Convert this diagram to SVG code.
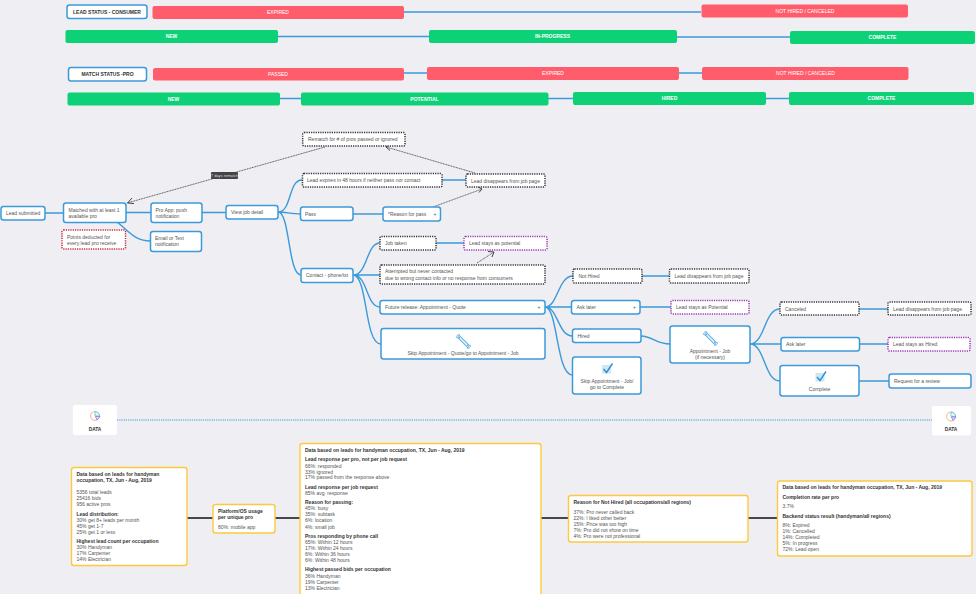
<svg xmlns="http://www.w3.org/2000/svg" width="976" height="594" viewBox="0 0 976 594">
<style>
text{font-family:"Liberation Sans",Arial,sans-serif;font-size:5px;fill:#555}
.c{text-anchor:middle}
.b{fill:#fff;stroke:#3b9ad9;stroke-width:1.500}
.d{fill:#fff;stroke:#333;stroke-width:1.500;stroke-dasharray:1.200 1.100}
.p{fill:#fff;stroke:#9c36b5;stroke-width:1.500;stroke-dasharray:1.200 1.100}
.r{fill:#fff;stroke:#c92a3e;stroke-width:1.500;stroke-dasharray:1.200 1.100}
.y{fill:#fff;stroke:#fcc93f;stroke-width:1.400}
.red{fill:#ff5d6c}.grn{fill:#0dd176}
.st{fill:#fff;font-weight:bold;font-size:5px;text-anchor:middle}
.st2{fill:#fff;font-size:5px;text-anchor:middle}
.h{fill:#333;font-size:5px;font-weight:bold}
.l{fill:none;stroke:#3b9ad9;stroke-width:1.400}
.k{fill:none;stroke:#111;stroke-width:1.500}
.g{fill:none;stroke:#666;stroke-width:1;stroke-dasharray:1.200 .5}
.ah{fill:none;stroke:#444;stroke-width:1}
</style>
<defs>
<g id="wrench"><path d="M2 2L11 11" fill="none" stroke="#5fb0e5" stroke-width="3.600" stroke-linecap="round"/><path d="M2 2L11 11" fill="none" stroke="#e8f4fc" stroke-width="1.600" stroke-linecap="round"/><path d="M-.5 2.500A2.800 2.800 0 0 1 2.500 -.5L1.500 1.500L3 3ZM13.500 10.500A2.800 2.800 0 0 1 10.500 13.500L11.500 11.500L10 10Z" fill="#e8f4fc" stroke="#5fb0e5" stroke-width=".8"/></g>
<g id="check"><rect x="0" y="1.500" width="9" height="8.500" fill="#cfe6f7"/><path d="M1.500 5.500L4.500 9L10.500 0" fill="none" stroke="#2f8fd6" stroke-width="1.400"/></g>
<g id="pie"><circle cx="0" cy="0" r="4.500" fill="none" stroke="#f6b48f" stroke-width="1"/><path d="M0 0V-4.500A4.500 4.500 0 0 1 4.500 0Z" fill="#e4f6fa" stroke="#5cc2d6" stroke-width=".8"/><path d="M.5 .5H5L2 4Z" fill="#e6e7fa" stroke="#7b7fd6" stroke-width=".8"/></g>
</defs>
<rect width="976" height="594" fill="#eeeef3"/>
<g id="connectors">
<path class="l" d="M404 12H701M278 36.500H429M677 37H790M404 73H427M679 73H702M280 98.500H301M548 98.500H573M766 98.500H789"/>
<path class="l" d="M45 213H63.500M126 212.500H151M202 212.500H226M117 222C130 232 135 241 150.500 241M278 212C292 212 288 180 302 180M278 212C285 212 292 214 300.500 214M278 212C290 212 288 275 301 275M353 214H383M442 180H466M353 275C368 275 366 243 380 243M353 275H380M353 275C368 275 366 307 380 307M353 275C368 275 364 344 381 344M436 243H464"/>
<path class="l" d="M545 307C558 307 558 276 573 276M545 307H571M545 307C558 307 558 336 572.500 336M545 307C558 307 556 375 572.500 375M642 276H669M640 307H671M641 336C652 336 656 344 670 344M750 344C765 344 764 309 780 309M750 344H781M750 344C765 344 764 381 780 381M859 309H888M859.500 344H888M859 381H889"/>
<path d="M117 420H932" fill="none" stroke="#3b9ad9" stroke-width="1.200" stroke-dasharray="1.200 1"/>
<path class="k" d="M187 518H213M275 518H300M541 518H568.500M748 518H777.500"/>
<path class="g" d="M325 147L127 203M475 173L386 147M433 207L482 189M477 263L494 252"/>
<path class="ah" d="M132 198L127.500 203L134 203.500M391 144.500L386 147L390 150.500M478 187L482 189L479 192.500M488 251.500L494 252L492 257"/>
</g>
<g id="n7days"><rect x="211" y="172" width="27" height="7" rx="1" fill="#444"/><text x="224.500" y="177" class="c" style="font-size:4px;fill:#ddd">7 days rematch</text></g>
<g id="lead-status"><rect class="b" x="67" y="5" width="80" height="13.500" rx="2.500"/><text x="107" y="13.800" class="c" style="fill:#333;font-weight:bold;font-size:5px">LEAD STATUS - CONSUMER</text></g>
<g id="s-expired"><rect class="red" x="152.500" y="6" width="251.500" height="13" rx="2"/><text x="278" y="14.300" class="st2">EXPIRED</text></g>
<g id="s-nothired"><rect class="red" x="701.500" y="4.500" width="206.500" height="13" rx="2"/><text x="805" y="13" class="st2">NOT HIRED / CANCELED</text></g>
<g id="s-new"><rect class="grn" x="65.500" y="30" width="212.500" height="13" rx="2"/><text x="171.500" y="38.300" class="st">NEW</text></g>
<g id="s-inprog"><rect class="grn" x="429" y="30" width="248" height="13" rx="2"/><text x="552.500" y="38.300" class="st">IN-PROGRESS</text></g>
<g id="s-complete"><rect class="grn" x="790" y="31" width="185" height="13" rx="2"/><text x="882.500" y="39" class="st">COMPLETE</text></g>
<g id="match-status"><rect class="b" x="68.500" y="67.500" width="78" height="13.500" rx="2.500"/><text x="107.500" y="75.800" class="c" style="fill:#333;font-weight:bold;font-size:5px">MATCH STATUS -PRO</text></g>
<g id="m-passed"><rect class="red" x="153" y="68" width="251" height="12.500" rx="2"/><text x="278" y="76" class="st2">PASSED</text></g>
<g id="m-expired"><rect class="red" x="427" y="67" width="252" height="13" rx="2"/><text x="553" y="75" class="st2">EXPIRED</text></g>
<g id="m-nothired"><rect class="red" x="702" y="67" width="206.500" height="13" rx="2"/><text x="805.500" y="75" class="st2">NOT HIRED / CANCELED</text></g>
<g id="m-new"><rect class="grn" x="67.500" y="92.500" width="212.500" height="13" rx="2"/><text x="173.500" y="100.500" class="st">NEW</text></g>
<g id="m-potential"><rect class="grn" x="301" y="92.500" width="247.500" height="13" rx="2"/><text x="424.500" y="100.500" class="st">POTENTIAL</text></g>
<g id="m-hired"><rect class="grn" x="573" y="92" width="193" height="13" rx="2"/><text x="669.500" y="100.300" class="st">HIRED</text></g>
<g id="m-complete"><rect class="grn" x="789" y="92" width="185" height="13" rx="2"/><text x="881.500" y="100" class="st">COMPLETE</text></g>
<g id="lead-submitted"><rect class="b" x="1" y="206.500" width="44" height="13.500" rx="2.500"/><text x="6" y="215.300">Lead submitted</text></g>
<g id="matched"><rect class="b" x="63.500" y="203" width="62.500" height="19.500" rx="2.500"/><text x="68.500" y="211.500">Matched with at least 1</text><text x="68.500" y="217.500">available pro</text></g>
<g id="proapp"><rect class="b" x="151" y="203" width="51" height="19.500" rx="2.500"/><text x="155.500" y="211.500">Pro App: push</text><text x="155.500" y="217.500">notification</text></g>
<g id="email"><rect class="b" x="150.500" y="231.500" width="51" height="20" rx="2.500"/><text x="155" y="240">Email or Text</text><text x="155" y="246">notification</text></g>
<g id="points"><rect class="r" x="62" y="230" width="63.500" height="19" rx="1.500"/><text x="67" y="238.500">Points deducted for</text><text x="67" y="244.800">every lead pro receive</text></g>
<g id="viewjob"><rect class="b" x="226" y="205.500" width="52" height="13.500" rx="2.500"/><text x="231" y="214">View job detail</text></g>
<g id="rematch"><rect class="d" x="302.700" y="132.500" width="102.300" height="13.500" rx="1.500"/><text x="308" y="141">Rematch for # of pros passed or ignored</text></g>
<g id="expires"><rect class="d" x="302.500" y="173.500" width="139.500" height="13.500" rx="1.500"/><text x="307" y="182">Lead expires in 48 hours if neither pass nor contact</text></g>
<g id="disappears1"><rect class="d" x="466" y="174" width="79" height="13" rx="1.500"/><text x="471" y="182.500">Lead disappears from job page</text></g>
<g id="pass"><rect class="b" x="300.500" y="207" width="52.500" height="13.500" rx="2.500"/><text x="305" y="215.500">Pass</text></g>
<g id="reason"><rect class="b" x="383" y="207" width="57.500" height="14" rx="2.500"/><text x="388" y="216">*Reason for pass</text><text x="433.500" y="216">+</text></g>
<g id="jobtaken"><rect class="d" x="380" y="236.500" width="56" height="13.500" rx="1.500"/><text x="385" y="245">Job taken</text></g>
<g id="staypot1"><rect class="p" x="464" y="236.500" width="83" height="13.500" rx="1.500"/><text x="469" y="245">Lead stays as potential</text></g>
<g id="attempted"><rect class="d" x="380" y="265" width="165" height="19" rx="1.500"/><text x="385" y="273">Attempted but never contacted</text><text x="385" y="279.500">due to wrong contact info or no response from consumers</text></g>
<g id="contact"><rect class="b" x="301" y="268.500" width="52" height="14" rx="2.500"/><text x="306" y="277.300">Contact - phone/txt</text></g>
<g id="future"><rect class="b" x="380" y="300.500" width="165" height="13.500" rx="2.500"/><text x="385" y="309">Future release: Appointment - Quote</text><text x="537.500" y="309">+</text></g>
<g id="skipquote"><rect class="b" x="381" y="328.500" width="164" height="30.500" rx="2.500"/><text x="463" y="354.500" class="c">Skip Appointment - Quote/go to Appointment - Job</text><use href="#wrench" x="457" y="335"/></g>
<g id="nothired"><rect class="d" x="573" y="269" width="69" height="14" rx="1.500"/><text x="578.500" y="277.800">Not Hired</text></g>
<g id="disappears2"><rect class="d" x="669.500" y="269" width="79.500" height="14" rx="1.500"/><text x="674.500" y="277.800">Lead disappears from job page</text></g>
<g id="asklater1"><rect class="b" x="571.500" y="300.500" width="68.500" height="13.500" rx="2.500"/><text x="576.500" y="309">Ask later</text><text x="633" y="309">+</text></g>
<g id="staypot2"><rect class="p" x="671" y="300.500" width="78" height="13.500" rx="1.500"/><text x="676" y="309">Lead stays as Potential</text></g>
<g id="hired"><rect class="b" x="572.500" y="329" width="68.500" height="13.500" rx="2.500"/><text x="577.500" y="338">Hired</text></g>
<g id="appointment"><rect class="b" x="670" y="326" width="80" height="37" rx="2.500"/><text x="710" y="352.500" class="c">Appointment - Job</text><text x="710" y="358.500" class="c">(if necessary)</text><use href="#wrench" x="704" y="332"/></g>
<g id="skipjob"><rect class="b" x="572.500" y="357" width="68.500" height="37" rx="2.500"/><text x="607" y="382.500" class="c">Skip Appointment - Job/</text><text x="607" y="388.500" class="c">go to Complete</text><use href="#check" x="602" y="363.500"/></g>
<g id="canceled"><rect class="d" x="780" y="302" width="79" height="13" rx="1.500"/><text x="785" y="310.500">Canceled</text></g>
<g id="disappears3"><rect class="d" x="888" y="302" width="83" height="13" rx="1.500"/><text x="893" y="310.500">Lead disappears from job page</text></g>
<g id="asklater2"><rect class="b" x="781" y="337.500" width="78.500" height="13.500" rx="2.500"/><text x="786" y="346.300">Ask later</text></g>
<g id="stayhired"><rect class="p" x="888" y="337.500" width="82" height="13.500" rx="1.500"/><text x="893" y="346.300">Lead stays as Hired</text></g>
<g id="complete"><rect class="b" x="780" y="365.500" width="79" height="30.500" rx="2.500"/><text x="819.500" y="391" class="c">Complete</text><use href="#check" x="815.500" y="371.500"/></g>
<g id="request"><rect class="b" x="889" y="374" width="82" height="14" rx="2.500"/><text x="894" y="382.800">Request for a review</text></g>
<g id="data-left"><rect x="73" y="405" width="44" height="30" rx="2" fill="#fff"/><use href="#pie" x="95" y="416"/><text x="95" y="430.500" class="c" style="fill:#333;font-weight:bold;font-size:4.800px">DATA</text></g>
<g id="data-right"><rect x="932" y="406" width="39" height="29.500" rx="2" fill="#fff"/><use href="#pie" x="951" y="416.500"/><text x="951" y="431" class="c" style="fill:#333;font-weight:bold;font-size:4.800px">DATA</text></g>
<g id="data1"><rect class="y" x="71.500" y="467.500" width="115.500" height="98" rx="2.500"/>
<text class="h" x="76.500" y="476">Data based on leads for handyman</text><text class="h" x="76.500" y="482.300">occupation, TX, Jun - Aug, 2019</text>
<text x="76.500" y="494">5356 total leads</text><text x="76.500" y="500">25416 bids</text><text x="76.500" y="506.300">956 active pros</text>
<text class="h" x="76.500" y="515.500">Lead distribution:</text><text x="76.500" y="522">30% get 8+ leads per month</text><text x="76.500" y="528">45% get 1-7</text><text x="76.500" y="534">25% get 1 or less</text>
<text class="h" x="76.500" y="543">Highest lead count per occupation</text><text x="76.500" y="549">30% Handyman</text><text x="76.500" y="555">17% Carpenter</text><text x="76.500" y="561">14% Electrician</text></g>
<g id="data2"><rect class="y" x="213" y="504.500" width="62" height="28.500" rx="2.500"/><text class="h" x="218" y="513">Platform/OS usage</text><text class="h" x="218" y="519">per unique pro</text><text x="218" y="528.500">80%: mobile app</text></g>
<g id="data3"><rect class="y" x="300" y="443.500" width="241" height="155" rx="2.500"/>
<text class="h" x="305" y="452">Data based on leads for handyman occupation, TX, Jun - Aug, 2019</text>
<text class="h" x="305" y="461">Lead response per pro, not per job request</text><text x="305" y="467.700">66%: responded</text><text x="305" y="473.700">33% ignored</text><text x="305" y="479.300">17% passed from the response above</text>
<text class="h" x="305" y="489">Lead response per job request</text><text x="305" y="495.300">85% avg. response</text>
<text class="h" x="305" y="504.300">Reason for passing:</text><text x="305" y="510.300">45%: busy</text><text x="305" y="516.300">35%: subtask</text><text x="305" y="522.300">6%: location</text><text x="305" y="528.700">4%: small job</text>
<text class="h" x="305" y="538">Pros responding by phone call</text><text x="305" y="544">65%: Within 12 hours</text><text x="305" y="550">17%: Within 24 hours</text><text x="305" y="556">6%: Within 36 hours</text><text x="305" y="562">6%: Within 48 hours</text>
<text class="h" x="305" y="571.300">Highest passed bids per occupation</text><text x="305" y="577.700">36% Handyman</text><text x="305" y="583.700">19% Carpenter</text><text x="305" y="589.700">13% Electrician</text></g>
<g id="data4"><rect class="y" x="568.500" y="495.500" width="179.500" height="46.500" rx="2.500"/>
<text class="h" x="573.500" y="504">Reason for Not Hired (all occupations/all regions)</text><text x="573.500" y="513.700">37%: Pro never called back</text><text x="573.500" y="519.700">22%: I liked other better</text><text x="573.500" y="525.700">15%: Price was too high</text><text x="573.500" y="531.700">7%: Pro did not show on time</text><text x="573.500" y="537.700">4%: Pro were not professional</text></g>
<g id="data5"><rect class="y" x="777.500" y="481" width="194.500" height="75" rx="2.500"/>
<text class="h" x="782.500" y="489.300">Data based on leads for handyman occupation, TX, Jun - Aug, 2019</text><text class="h" x="782.500" y="499">Completion rate per pro</text><text x="782.500" y="508.300">3.7%</text>
<text class="h" x="782.500" y="518">Backend status result (handyman/all regions)</text><text x="782.500" y="527.300">8%: Expired</text><text x="782.500" y="533.300">1%: Cancelled</text><text x="782.500" y="539.300">14%: Completed</text><text x="782.500" y="545.300">5%: In progress</text><text x="782.500" y="551.300">72%: Lead open</text></g>
</svg>
